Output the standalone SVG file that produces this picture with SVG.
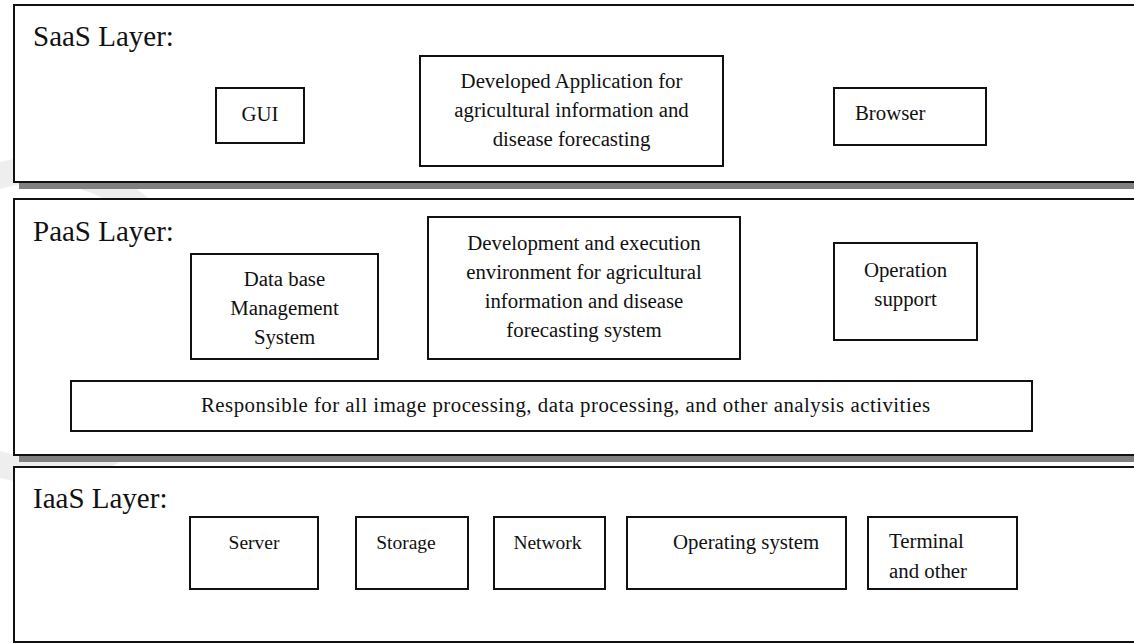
<svg xmlns="http://www.w3.org/2000/svg" width="1134" height="644" viewBox="0 0 1134 644">
  <style>
    .layer { fill: #ffffff; stroke: #111111; stroke-width: 2; }
    .shadow { fill: #808080; stroke: none; }
    .box { fill: #ffffff; stroke: #111111; stroke-width: 2; }
    .title { font-family: "Liberation Serif", "Times New Roman", serif; font-size: 29px; fill: #111111; }
    .lbl { font-family: "Liberation Serif", "Times New Roman", serif; font-size: 20.8px; fill: #111111; }
    .sm { font-size: 19.5px; }
    .c { text-anchor: middle; }
    .mark { fill: none; stroke: #eeeeee; stroke-width: 26; }
  </style>
  <rect width="1134" height="644" fill="#ffffff"/>

  <!-- faint background emblem -->
  <circle class="mark" cx="40" cy="320" r="150"/>

  <!-- SaaS layer -->
  <g id="saas-layer">
    <rect class="shadow" x="19" y="11" width="1130" height="178"/>
    <rect class="layer" x="14" y="5" width="1130" height="177"/>
    <text class="title" x="33" y="46">SaaS Layer:</text>
  </g>
  <g id="gui">
    <rect class="box" x="216" y="88" width="88" height="55"/>
    <text class="lbl c" x="260" y="121">GUI</text>
  </g>
  <g id="developed-application">
    <rect class="box" x="420" y="56" width="303" height="110"/>
    <text class="lbl c" x="571.5" y="88">Developed Application for</text>
    <text class="lbl c" x="571.5" y="117">agricultural information and</text>
    <text class="lbl c" x="571.5" y="146">disease forecasting</text>
  </g>
  <g id="browser">
    <rect class="box" x="834" y="88" width="152" height="57"/>
    <text class="lbl" x="855" y="120">Browser</text>
  </g>

  <!-- PaaS layer -->
  <g id="paas-layer">
    <rect class="shadow" x="19" y="205" width="1130" height="257"/>
    <rect class="layer" x="14" y="199" width="1130" height="256"/>
    <text class="title" x="33" y="241">PaaS Layer:</text>
  </g>
  <g id="dbms">
    <rect class="box" x="191" y="254" width="187" height="105"/>
    <text class="lbl c" x="284.5" y="286">Data base</text>
    <text class="lbl c" x="284.5" y="315">Management</text>
    <text class="lbl c" x="284.5" y="344">System</text>
  </g>
  <g id="dev-environment">
    <rect class="box" x="428" y="217" width="312" height="142"/>
    <text class="lbl c" x="584" y="250">Development and execution</text>
    <text class="lbl c" x="584" y="279">environment for agricultural</text>
    <text class="lbl c" x="584" y="308">information and disease</text>
    <text class="lbl c" x="584" y="337">forecasting system</text>
  </g>
  <g id="operation-support">
    <rect class="box" x="834" y="243" width="143" height="97"/>
    <text class="lbl c" x="905.5" y="277">Operation</text>
    <text class="lbl c" x="905.5" y="306">support</text>
  </g>
  <g id="processing">
    <rect class="box" x="71" y="381" width="961" height="50"/>
    <text class="lbl" x="201" y="412" textLength="729" lengthAdjust="spacing">Responsible for all image processing, data processing, and other analysis activities</text>
  </g>

  <!-- IaaS layer -->
  <g id="iaas-layer">
    <rect class="layer" x="14" y="467" width="1130" height="175"/>
    <text class="title" x="33" y="508">IaaS Layer:</text>
  </g>
  <g id="server">
    <rect class="box" x="190" y="517" width="128" height="72"/>
    <text class="lbl sm c" x="254" y="549">Server</text>
  </g>
  <g id="storage">
    <rect class="box" x="356" y="517" width="112" height="72"/>
    <text class="lbl sm c" x="406" y="549">Storage</text>
  </g>
  <g id="network">
    <rect class="box" x="494" y="517" width="111" height="72"/>
    <text class="lbl sm c" x="547.5" y="549">Network</text>
  </g>
  <g id="operating-system">
    <rect class="box" x="627" y="517" width="219" height="72"/>
    <text class="lbl" x="673" y="549">Operating system</text>
  </g>
  <g id="terminal">
    <rect class="box" x="868" y="517" width="149" height="72"/>
    <text class="lbl" x="889" y="548">Terminal</text>
    <text class="lbl" x="889" y="578">and other</text>
  </g>

  <g id="connectors"/>
</svg>
